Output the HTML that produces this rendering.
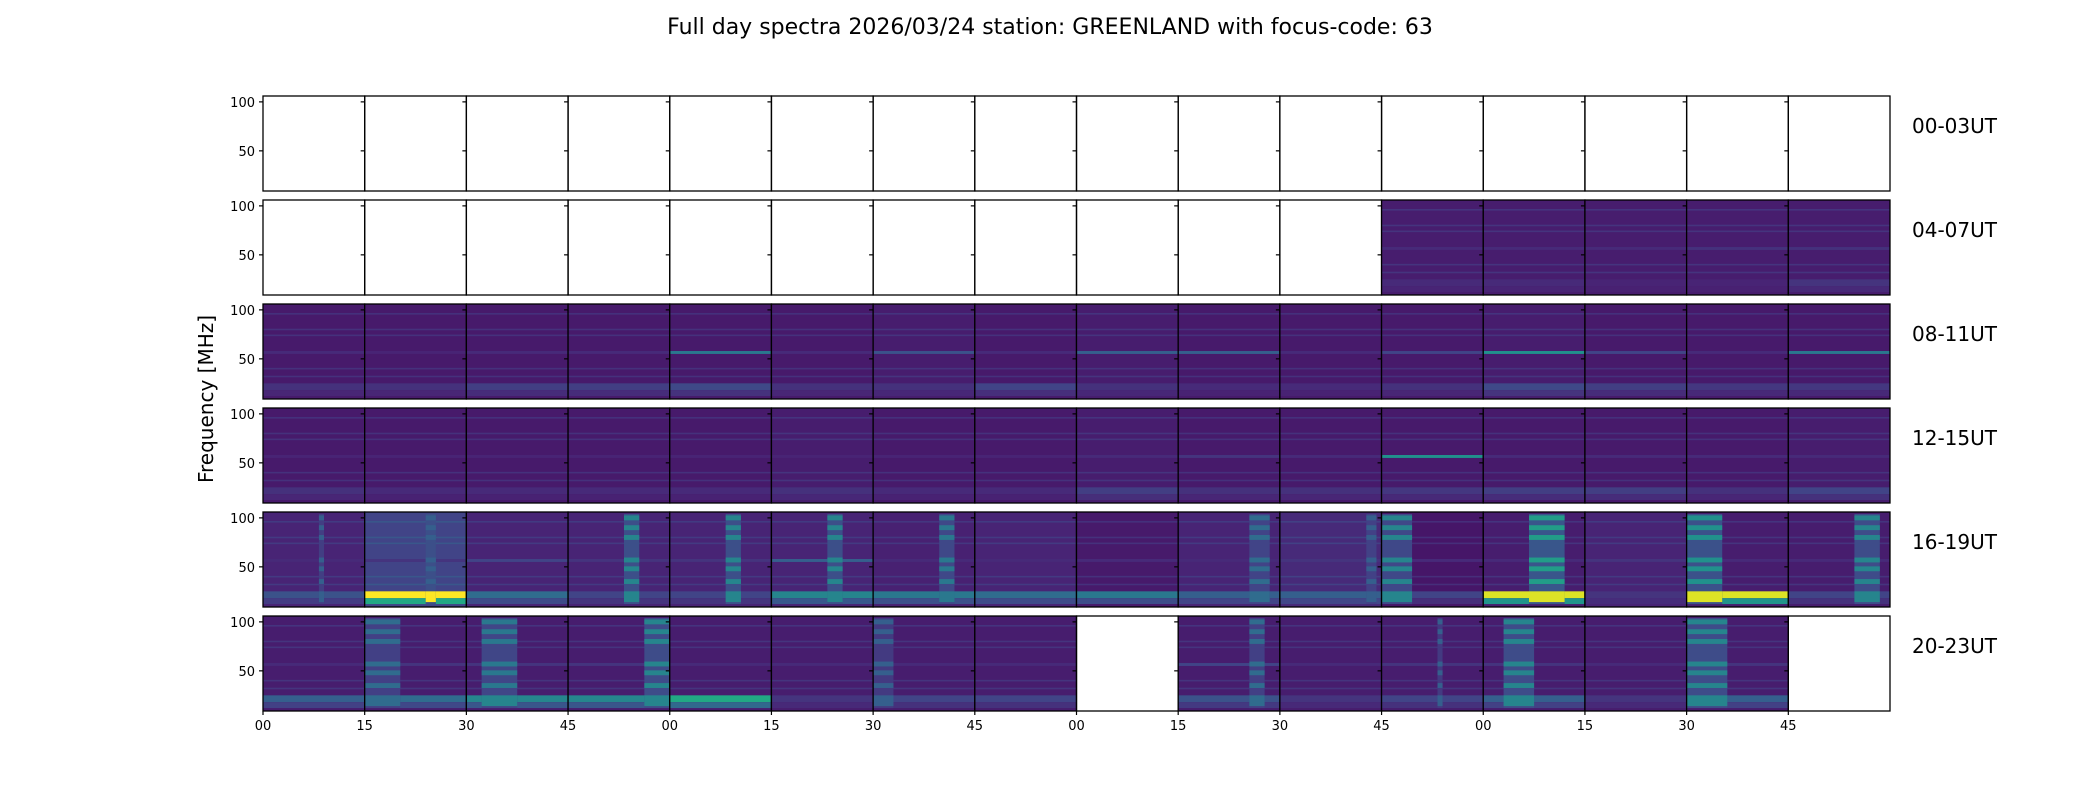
<!DOCTYPE html>
<html><head><meta charset="utf-8"><style>
body{margin:0;background:#fff;width:2100px;height:800px;overflow:hidden}
svg text{font-family:"DejaVu Sans","Liberation Sans",sans-serif;fill:#000}
</style></head><body>
<svg id="fig" width="2100" height="800" xmlns="http://www.w3.org/2000/svg">
<rect width="2100" height="800" fill="#fff"/>
<text x="1050" y="34" font-size="22" text-anchor="middle">Full day spectra 2026/03/24 station: GREENLAND with focus-code: 63</text>
<text transform="translate(213,399) rotate(-90)" font-size="20" text-anchor="middle">Frequency [MHz]</text>
<g id="panels"></g>
</svg>
<script>
// ----- data -----
const rowLabels = ["00-03UT","04-07UT","08-11UT","12-15UT","16-19UT","20-23UT"];
const xTickLabels = ["00","15","30","45","00","15","30","45","00","15","30","45","00","15","30","45"];
const yTickValues = [100, 50];
const freqMin = 9, freqMax = 106;
// 1 = data present, 0 = empty panel
const hasData = [
 [0,0,0,0,0,0,0,0,0,0,0,0,0,0,0,0],
 [0,0,0,0,0,0,0,0,0,0,0,1,1,1,1,1],
 [1,1,1,1,1,1,1,1,1,1,1,1,1,1,1,1],
 [1,1,1,1,1,1,1,1,1,1,1,1,1,1,1,1],
 [1,1,1,1,1,1,1,1,1,1,1,1,1,1,1,1],
 [1,1,1,1,1,1,1,1,0,1,1,1,1,1,1,0]
];
const baseLevel = [
 [0,0,0,0,0,0,0,0,0,0,0,0,0,0,0,0],
 [0,0,0,0,0,0,0,0,0,0,0,.08,.08,.08,.08,.08],
 [.07,.07,.07,.07,.07,.07,.08,.07,.08,.07,.07,.07,.08,.07,.07,.07],
 [.07,.07,.07,.07,.07,.08,.07,.07,.08,.07,.07,.07,.07,.07,.07,.08],
 [.1,.2,.1,.1,.1,.1,.09,.1,.07,.1,.12,.06,.08,.1,.08,.08],
 [.08,.08,.08,.08,.08,.08,.08,.08,0,.08,.08,.08,.08,.08,.08,0]
];
const lowBandLevel = [
 [0,0,0,0,0,0,0,0,0,0,0,0,0,0,0,0],
 [0,0,0,0,0,0,0,0,0,0,0,.12,.12,.1,.1,.15],
 [.14,.14,.18,.18,.22,.14,.14,.2,.14,.12,.12,.14,.22,.18,.16,.16],
 [.14,.12,.12,.12,.12,.14,.12,.12,.18,.14,.14,.16,.18,.18,.14,.2],
 [.25,1.0,.35,.2,.2,.45,.4,.35,.4,.3,.3,.2,.95,.15,.95,.2],
 [.3,.35,.45,.45,.6,.15,.2,.2,0,.25,.15,.2,.3,.15,.3,0]
];
// mid-frequency emission line (~56 MHz) level
const lineLevel = [
 [0,0,0,0,0,0,0,0,0,0,0,0,0,0,0,0],
 [0,0,0,0,0,0,0,0,0,0,0,.12,.12,.12,.14,.14],
 [.12,.1,.12,.12,.4,.12,.25,.12,.3,.3,.12,.2,.5,.2,.12,.4],
 [.1,.1,.1,.1,.1,.1,.1,.1,.12,.15,.12,.5,.12,.12,.12,.12],
 [.12,.15,.2,.15,.15,.3,.12,.12,.12,.12,.15,.12,.12,.15,.12,.12],
 [.12,.15,.15,.15,.12,.12,.12,.12,0,.2,.12,.15,.15,.12,.15,0]
];
// burst columns: start fraction, end fraction, level
const burstStart = [
 [0,0,0,0,0,0,0,0,0,0,0,0,0,0,0,0],
 [0,0,0,0,0,0,0,0,0,0,0,0,0,0,0,0],
 [0,0,0,0,0,0,0,0,0,0,0,0,0,0,0,0],
 [0,0,0,0,0,0,0,0,0,0,0,0,0,0,0,0],
 [.55,.6,0,.55,.55,.55,.65,0,0,.7,.85,0,.45,0,0,.65],
 [0,0,.15,.75,0,0,0,0,0,.7,0,.55,.2,0,0,0]
];
const burstEnd = [
 [0,0,0,0,0,0,0,0,0,0,0,0,0,0,0,0],
 [0,0,0,0,0,0,0,0,0,0,0,0,0,0,0,0],
 [0,0,0,0,0,0,0,0,0,0,0,0,0,0,0,0],
 [0,0,0,0,0,0,0,0,0,0,0,0,0,0,0,0],
 [.6,.7,0,.7,.7,.7,.8,0,0,.9,.95,.3,.8,0,.35,.9],
 [0,.35,.5,1,0,0,.2,0,0,.85,0,.6,.5,0,.4,0]
];
const burstLevel = [
 [0,0,0,0,0,0,0,0,0,0,0,0,0,0,0,0],
 [0,0,0,0,0,0,0,0,0,0,0,0,0,0,0,0],
 [0,0,0,0,0,0,0,0,0,0,0,0,0,0,0,0],
 [0,0,0,0,0,0,0,0,0,0,0,0,0,0,0,0],
 [.3,.3,0,.45,.45,.45,.4,0,0,.35,.3,.45,.55,0,.5,.45],
 [0,.35,.4,.45,0,0,.3,0,0,.35,0,.3,.45,0,.45,0]
];
const burstLineFreqs = [100, 90, 80, 57, 48, 35];
const commonLineFreqs = [96, 80, 74, 40, 32];

// ----- rendering -----
const VIR = ["#440154","#482475","#414487","#355f8d","#2a788e","#21918c","#22a884","#44bf70","#7ad151","#bddf26","#fde725"];
function hex(h){return [parseInt(h.slice(1,3),16),parseInt(h.slice(3,5),16),parseInt(h.slice(5,7),16)];}
function viridis(v){v=Math.max(0,Math.min(1,v));const p=v*10,i=Math.min(9,Math.floor(p)),t=p-i;const a=hex(VIR[i]),b=hex(VIR[i+1]);return "rgb("+a.map((c,k)=>Math.round(c+(b[k]-c)*t)).join(",")+")";}
const NS="http://www.w3.org/2000/svg";
const left=263, right=1890, nCols=16, pw=(right-left)/nCols, top0=96, rowPitch=104, ph=95;
function xPos(col,frac){return left+col*pw+frac*pw;}
function yPos(row,f){return top0+row*rowPitch+(freqMax-f)/(freqMax-freqMin)*ph;}
function mk(tag,attrs,parent){const e=document.createElementNS(NS,tag);for(const k in attrs)e.setAttribute(k,attrs[k]);parent.appendChild(e);return e;}
const g=document.getElementById('panels');
for(let r=0;r<6;r++){
  const rowG=mk('g',{},g);
  
  
  for(let c=0;c<nCols;c++){
    const pg=mk('g',{},rowG);
    
    
    const x0=xPos(c,0), yt=yPos(r,freqMax);
    if(hasData[r][c]){
      const b=baseLevel[r][c];
      mk('rect',{x:x0,y:yt,width:pw,height:ph,fill:viridis(b)},pg);
      for(const f of commonLineFreqs){
        mk('rect',{x:x0,y:yPos(r,f+0.8),width:pw,height:1.6,fill:viridis(b+0.07)},pg);
      }
      mk('rect',{x:x0,y:yPos(r,58),width:pw,height:yPos(r,55)-yPos(r,58),fill:viridis(lineLevel[r][c])},pg);
      const lb=lowBandLevel[r][c];
      mk('rect',{x:x0,y:yPos(r,25),width:pw,height:yPos(r,18)-yPos(r,25),fill:viridis(lb)},pg);
      mk('rect',{x:x0,y:yPos(r,18),width:pw,height:yPos(r,12)-yPos(r,18),fill:viridis(b+(lb-b)*0.5)},pg);
      const bs=burstStart[r][c], be=burstEnd[r][c], bl=burstLevel[r][c];
      if(be>bs){
        const bx=xPos(c,bs), bw=(be-bs)*pw;
        mk('rect',{x:bx,y:yPos(r,104),width:bw,height:yPos(r,12)-yPos(r,104),fill:viridis(b+(bl-b)*0.4)},pg);
        for(const f of burstLineFreqs){
          mk('rect',{x:bx,y:yPos(r,f+2.5),width:bw,height:yPos(r,f-2.5)-yPos(r,f+2.5),fill:viridis(bl)},pg);
        }
        mk('rect',{x:bx,y:yPos(r,25),width:bw,height:yPos(r,14)-yPos(r,25),fill:viridis(Math.max(bl,lb))},pg);
      }
    }
    mk('rect',{x:x0,y:yt,width:pw,height:ph,fill:'none',stroke:'#000','stroke-width':1.3},pg);
    for(const v of yTickValues){
      mk('line',{x1:x0-4,x2:x0,y1:yPos(r,v),y2:yPos(r,v),stroke:'#000','stroke-width':1.2},pg);
    }
  }
  for(const v of yTickValues){
    const t=mk('text',{x:left-8,y:yPos(r,v)+5,'font-size':13,'text-anchor':'end'},rowG);
    t.textContent=v;
    
    
  }
  const rl=mk('text',{x:1912,y:top0+r*rowPitch+37,'font-size':20},rowG);
  rl.textContent=rowLabels[r];
  
  
}
for(let i=0;i<xTickLabels.length;i++){
  const x=xPos(i,0), yb=yPos(5,freqMin);
  mk('line',{x1:x,x2:x,y1:yb,y2:yb+4,stroke:'#000','stroke-width':1.2},g);
  const t=mk('text',{x:x,y:yb+19,'font-size':13,'text-anchor':'middle'},g);
  t.textContent=xTickLabels[i];
  
  
}
</script>
</body></html>
